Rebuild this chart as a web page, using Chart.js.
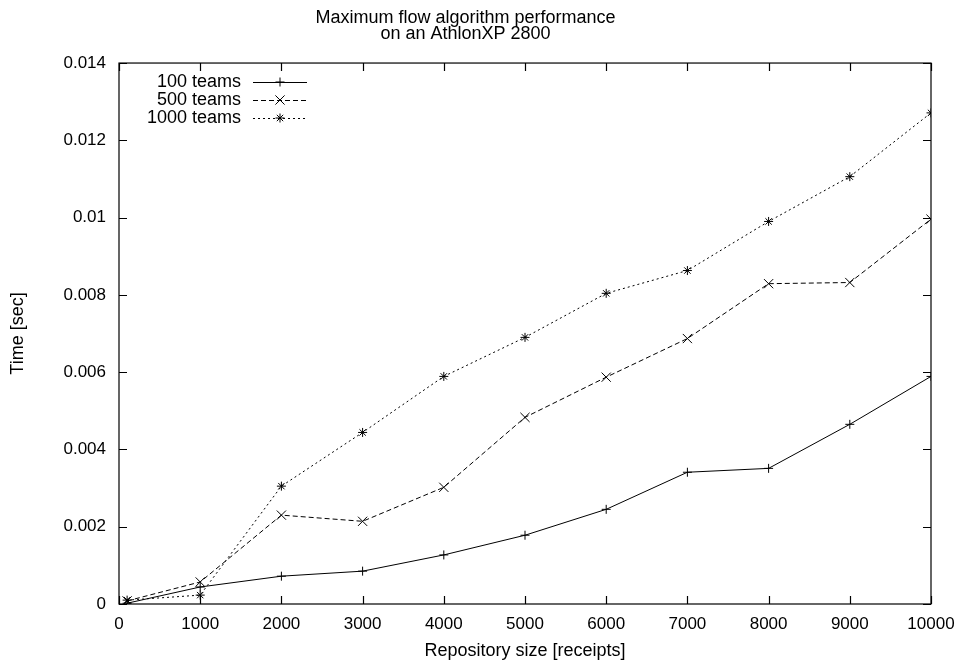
<!DOCTYPE html>
<html>
<head>
<meta charset="UTF-8">
<title>Maximum flow algorithm performance</title>
<script src="https://cdn.jsdelivr.net/npm/chart.js"></script>
<style>
  html, body { margin: 0; padding: 0; background: #fff; }
  #wrap { width: 959px; height: 663px; }
</style>
</head>
<body>
<div id="wrap"><canvas id="chart"></canvas></div>
<script>
// repository sizes (x)
const sizes = [100, 1000, 2000, 3000, 4000, 5000, 6000, 7000, 8000, 9000, 10000];
// time in seconds for each series
const teams100 = [0.00002, 0.00044, 0.00072, 0.00085, 0.00127, 0.00178, 0.00245, 0.00341, 0.00351, 0.00465, 0.00589];
const teams500 = [0.00008, 0.00057, 0.00230, 0.00214, 0.00302, 0.00483, 0.00587, 0.00687, 0.00829, 0.00832, 0.00996];
const teams1000 = [0.00010, 0.00023, 0.00305, 0.00444, 0.00589, 0.00690, 0.00804, 0.00863, 0.00990, 0.01106, 0.01271];
const seriesLabels = ['100 teams', '500 teams', '1000 teams'];
const titleLines = ['Maximum flow algorithm performance', 'on an AthlonXP 2800'];

const FONT = '"Liberation Sans", Arial, sans-serif';
const INK = '#000';

const pts = (vals) => sizes.map((x, i) => ({ x: x, y: vals[i] }));

// gnuplot-like frame, inward ticks on all four sides, and legend in the top-left
const gnuplotFrame = {
  id: 'gnuplotFrame',
  afterDraw(chart) {
    const ctx = chart.ctx;
    const a = chart.chartArea;
    const xs = chart.scales.x, ys = chart.scales.y;
    const tl = 8;
    ctx.save();
    ctx.strokeStyle = INK;
    ctx.lineWidth = 1.2;
    ctx.setLineDash([]);
    ctx.strokeRect(a.left, a.top, a.right - a.left, a.bottom - a.top);
    ctx.beginPath();
    xs.ticks.forEach(t => {
      const px = Math.round(xs.getPixelForValue(t.value)) + 0.5;
      ctx.moveTo(px, a.bottom); ctx.lineTo(px, a.bottom - tl);
      ctx.moveTo(px, a.top); ctx.lineTo(px, a.top + tl);
    });
    ys.ticks.forEach(t => {
      const py = Math.round(ys.getPixelForValue(t.value)) + 0.5;
      ctx.moveTo(a.left, py); ctx.lineTo(a.left + tl, py);
      ctx.moveTo(a.right, py); ctx.lineTo(a.right - tl, py);
    });
    ctx.stroke();

    // legend
    ctx.font = '18px ' + FONT;
    ctx.fillStyle = INK;
    ctx.textAlign = 'right';
    ctx.textBaseline = 'middle';
    chart.data.datasets.forEach((ds, i) => {
      const y = 82 + i * 18;
      ctx.fillText(ds.label, 241, y);
      ctx.beginPath();
      ctx.lineWidth = 1;
      ctx.setLineDash(ds.borderDash || []);
      ctx.moveTo(253, y + 0.5);
      ctx.lineTo(307, y + 0.5);
      ctx.stroke();
      ctx.setLineDash([]);
      Chart.helpers.drawPoint(ctx, {
        pointStyle: ds.pointStyle,
        radius: ds.pointRadius,
        rotation: 0,
        borderWidth: 1
      }, 280, y);
    });
    ctx.restore();
  }
};

const mkSet = (label, vals, dash, style, r) => ({
  label: label,
  data: pts(vals),
  borderColor: INK,
  backgroundColor: INK,
  borderWidth: 1,
  borderDash: dash,
  pointStyle: style,
  pointRadius: r,
  pointHoverRadius: r,
  pointBorderColor: INK,
  pointBorderWidth: 1,
  tension: 0
});

new Chart(document.getElementById('chart'), {
  type: 'line',
  data: {
    datasets: [
      mkSet(seriesLabels[0], teams100, [], 'cross', 4.5),
      mkSet(seriesLabels[1], teams500, [5, 3], 'crossRot', 6.5),
      mkSet(seriesLabels[2], teams1000, [2, 3], 'star', 4.5)
    ]
  },
  options: {
    responsive: true,
    maintainAspectRatio: false,
    animation: false,
    layout: { padding: { left: 0, right: 28, top: 0, bottom: 0 } },
    plugins: {
      legend: { display: false },
      tooltip: { enabled: false },
      title: {
        display: true,
        text: titleLines,
        color: INK,
        font: { family: FONT, size: 18, weight: 'normal', lineHeight: 0.89 },
        padding: { top: 10, bottom: 21 }
      }
    },
    scales: {
      x: {
        type: 'linear',
        min: 0,
        max: 10000,
        afterBuildTicks(scale) {
          scale.ticks = [];
          for (let v = 0; v <= 10000; v += 1000) scale.ticks.push({ value: v });
        },
        afterFit(scale) {
          scale.height = 59;
          scale.paddingLeft = 0;
          scale.paddingRight = 0;
        },
        grid: { display: false, drawTicks: false },
        border: { display: false },
        ticks: {
          color: INK,
          font: { family: FONT, size: 17 },
          padding: 10,
          maxRotation: 0,
          autoSkip: false,
          callback: (v) => String(v)
        },
        title: {
          display: true,
          text: 'Repository size [receipts]',
          color: INK,
          font: { family: FONT, size: 18 },
          padding: { top: 0, bottom: 1 }
        }
      },
      y: {
        min: 0,
        max: 0.014,
        afterBuildTicks(scale) {
          scale.ticks = [];
          for (let i = 0; i <= 7; i++) scale.ticks.push({ value: i * 0.002 });
        },
        afterFit(scale) { scale.width = 119; },
        grid: { display: false, drawTicks: false },
        border: { display: false },
        ticks: {
          color: INK,
          font: { family: FONT, size: 17 },
          padding: 13,
          callback: (v) => String(Number(v.toFixed(3)))
        },
        title: {
          display: true,
          text: 'Time [sec]',
          color: INK,
          font: { family: FONT, size: 18 },
          padding: { top: 7, bottom: 0 }
        }
      }
    }
  },
  plugins: [gnuplotFrame]
});
</script>
</body>
</html>
